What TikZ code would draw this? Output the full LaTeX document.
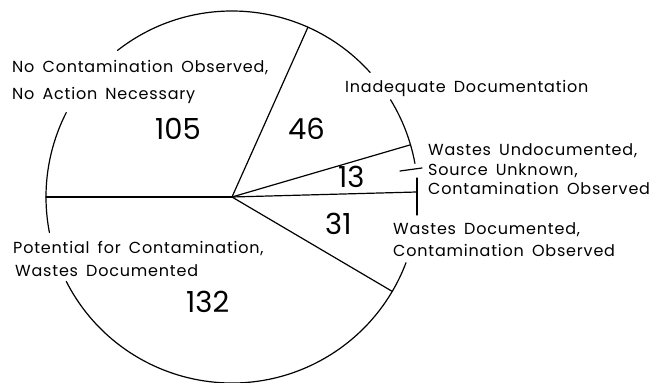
\documentclass[tikz,border=0pt]{standalone}
\usepackage{fontspec}
\setmainfont{Poppins}
\newfontfamily\lblfont{Poppins}[LetterSpace=5,WordSpace=1.6]
\begin{document}
\begin{tikzpicture}[x=1pt,y=1pt,
  pie/.style={line width=1.2pt,line cap=round},
  lbl/.style={anchor=base west,inner sep=0pt,font=\lblfont\fontsize{16}{18}\selectfont},
  num/.style={anchor=base west,inner sep=0pt,font=\fontsize{29}{30}\selectfont}]
\useasboundingbox (0,0) rectangle (654,383);
\def\pieR{186}
\coordinate (O) at (232,186);
% arc segments (gaps where labels cut in)
\draw[pie] ([shift={(42:\pieR)}]O) arc[start angle=42,end angle=128,radius=\pieR];
\draw[pie] ([shift={(153:\pieR)}]O) arc[start angle=153,end angle=191,radius=\pieR];
\draw[pie] ([shift={(207:\pieR)}]O) arc[start angle=207,end angle=339.3,radius=\pieR];
\draw[pie] ([shift={(10.4:\pieR)}]O) arc[start angle=10.4,end angle=31.5,radius=\pieR];
% radial lines
\coordinate (e1) at ([shift={(180:\pieR)}]O);
\coordinate (e2) at ([shift={(65.9:\pieR)}]O);
\coordinate (e3) at ([shift={(16.3:\pieR)}]O);
\coordinate (e4) at (417,191);
\coordinate (e5) at ([shift={(-30.5:\pieR)}]O);
\draw[pie] (O) -- (e1);
\draw[pie] (O) -- (e2);
\draw[pie] (O) -- (e3);
\draw[pie] (O) -- (e4);
\draw[pie] (O) -- (e5);
% bracket and leader
\coordinate (bt) at (417,205);
\coordinate (bb) at (417,168);
\draw[pie] (bt) -- (bb);
\coordinate (d1) at (400,212);
\coordinate (d2) at (422,215);
\draw[pie] (d1) -- (d2);
% labels
\node[lbl] (l1a) at (12,310.7) {No Contamination Observed,};
\node[lbl] (l1b) at (12,283.7) {No Action Necessary};
\node[num] (n105) at (155,243) {105};
\node[num] (n46) at (288,243) {46};
\node[lbl] (l2) at (345,290) {Inadequate Documentation};
\node[lbl] (l3a) at (428,227.3) {Wastes Undocumented,};
\node[lbl] (l3b) at (428,207) {Source Unknown,};
\node[lbl] (l3c) at (428,188.7) {Contamination Observed};
\node[num] (n13) at (338,195) {13};
\node[num] (n31) at (325,148) {31};
\node[lbl] (l4a) at (393,148) {Wastes Documented,};
\node[lbl] (l4b) at (393,126) {Contamination Observed};
\node[lbl] (l5a) at (13,129) {Potential for Contamination,};
\node[lbl] (l5b) at (15,106) {Wastes Documented};
\node[num] (n132) at (186,70) {132};
\end{tikzpicture}
\end{document}
